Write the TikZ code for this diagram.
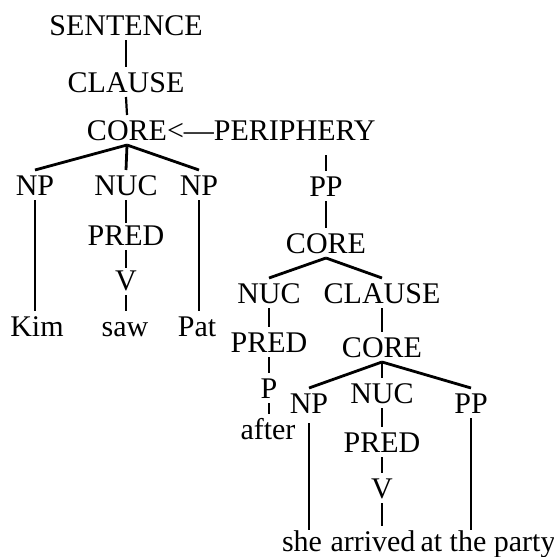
\documentclass[tikz,border=0pt]{standalone}
\usepackage{fontspec}
\setmainfont{Liberation Serif}
\usepackage{tikz}

\begin{document}
\begin{tikzpicture}[x=1pt, y=-1pt,
    lab/.style={inner sep=0pt, outer xsep=0pt, outer ysep=5pt, text height=20pt, text depth=0pt,
                anchor=base, font=\fontsize{30}{36}\selectfont},
    edge/.style={line width=2.2pt},
    branch/.style={line width=2.8pt}]
    \useasboundingbox (0,0) rectangle (554,557);
    \node[lab] (sentence) at (126,35) {SENTENCE};
    \node[lab] (clause1) at (126,92) {CLAUSE};
    \node[lab] (core1) at (127,140) {CORE};
    \node[lab, anchor=base west] (link) at (core1.base east) {<—};
    \node[lab, anchor=base west] (peri) at (link.base east) {PERIPHERY};
    \node[lab] (np1) at (35,195) {NP};
    \node[lab] (nuc1) at (126,195) {NUC};
    \node[lab] (np2) at (199,195) {NP};
    \node[lab] (pred1) at (126,245) {PRED};
    \node[lab] (v1) at (126,290) {V};
    \node[lab] (kim) at (37,336) {Kim};
    \node[lab] (saw) at (125,336) {saw};
    \node[lab] (pat) at (197,336) {Pat};
    \node[lab] (pp1) at (326,196) {PP};
    \node[lab] (core2) at (326,253) {CORE};
    \node[lab] (nuc2) at (269,303) {NUC};
    \node[lab] (clause2) at (382,303) {CLAUSE};
    \node[lab] (pred2) at (269,352) {PRED};
    \node[lab] (p) at (269,398) {P};
    \node[lab] (after) at (268,439) {after};
    \node[lab] (core3) at (382,357) {CORE};
    \node[lab] (np3) at (309,413) {NP};
    \node[lab] (nuc3) at (382,403) {NUC};
    \node[lab] (pp3) at (471,413) {PP};
    \node[lab] (pred3) at (382,452) {PRED};
    \node[lab] (v3) at (382,498) {V};
    \node[lab] (she) at (302,551) {she};
    \node[lab] (arrived) at (373,551) {arrived};
    \node[lab] (party) at (488,551) {at the party};

    \draw[edge] (sentence.south) -- (clause1.north);
    \draw[edge] (clause1.south) -- (core1.north);
    \draw[branch] (core1.south) -- (np1.north);
    \draw[branch] (core1.south) -- (nuc1.north);
    \draw[branch] (core1.south) -- (np2.north);
    \draw[edge] (np1.south) -- (np1.south |- kim.north);
    \draw[edge, shorten >=-3pt] (nuc1.south) -- (pred1.north);
    \draw[edge, shorten >=-3pt] (pred1.south) -- (v1.north);
    \draw[edge] (v1.south) -- (v1.south |- saw.north);
    \draw[edge] (np2.south) -- (np2.south |- pat.north);
    \draw[edge, shorten <=10pt] (peri.south -| pp1) -- (pp1.north);
    \draw[edge] (pp1.south) -- (core2.north);
    \draw[branch] (core2.south) -- (nuc2.north);
    \draw[branch] (core2.south) -- (clause2.north);
    \draw[edge] (nuc2.south) -- (pred2.north);
    \draw[edge] (pred2.south) -- (p.north);
    \draw[edge] (p.south) -- (p.south |- after.north);
    \draw[edge] (clause2.south) -- (core3.north);
    \draw[branch] (core3.south) -- (np3.north);
    \draw[branch] (core3.south) -- (nuc3.north);
    \draw[branch] (core3.south) -- (pp3.north);
    \draw[edge, shorten <=5pt, shorten >=-4pt] (np3.south) -- (np3.south |- she.north);
    \draw[edge] (nuc3.south) -- (pred3.north);
    \draw[edge] (pred3.south) -- (v3.north);
    \draw[edge] (v3.south) -- (v3.south |- arrived.north);
    \draw[edge, shorten >=-4pt] (pp3.south) -- (pp3.south |- party.north);
\end{tikzpicture}
\end{document}
